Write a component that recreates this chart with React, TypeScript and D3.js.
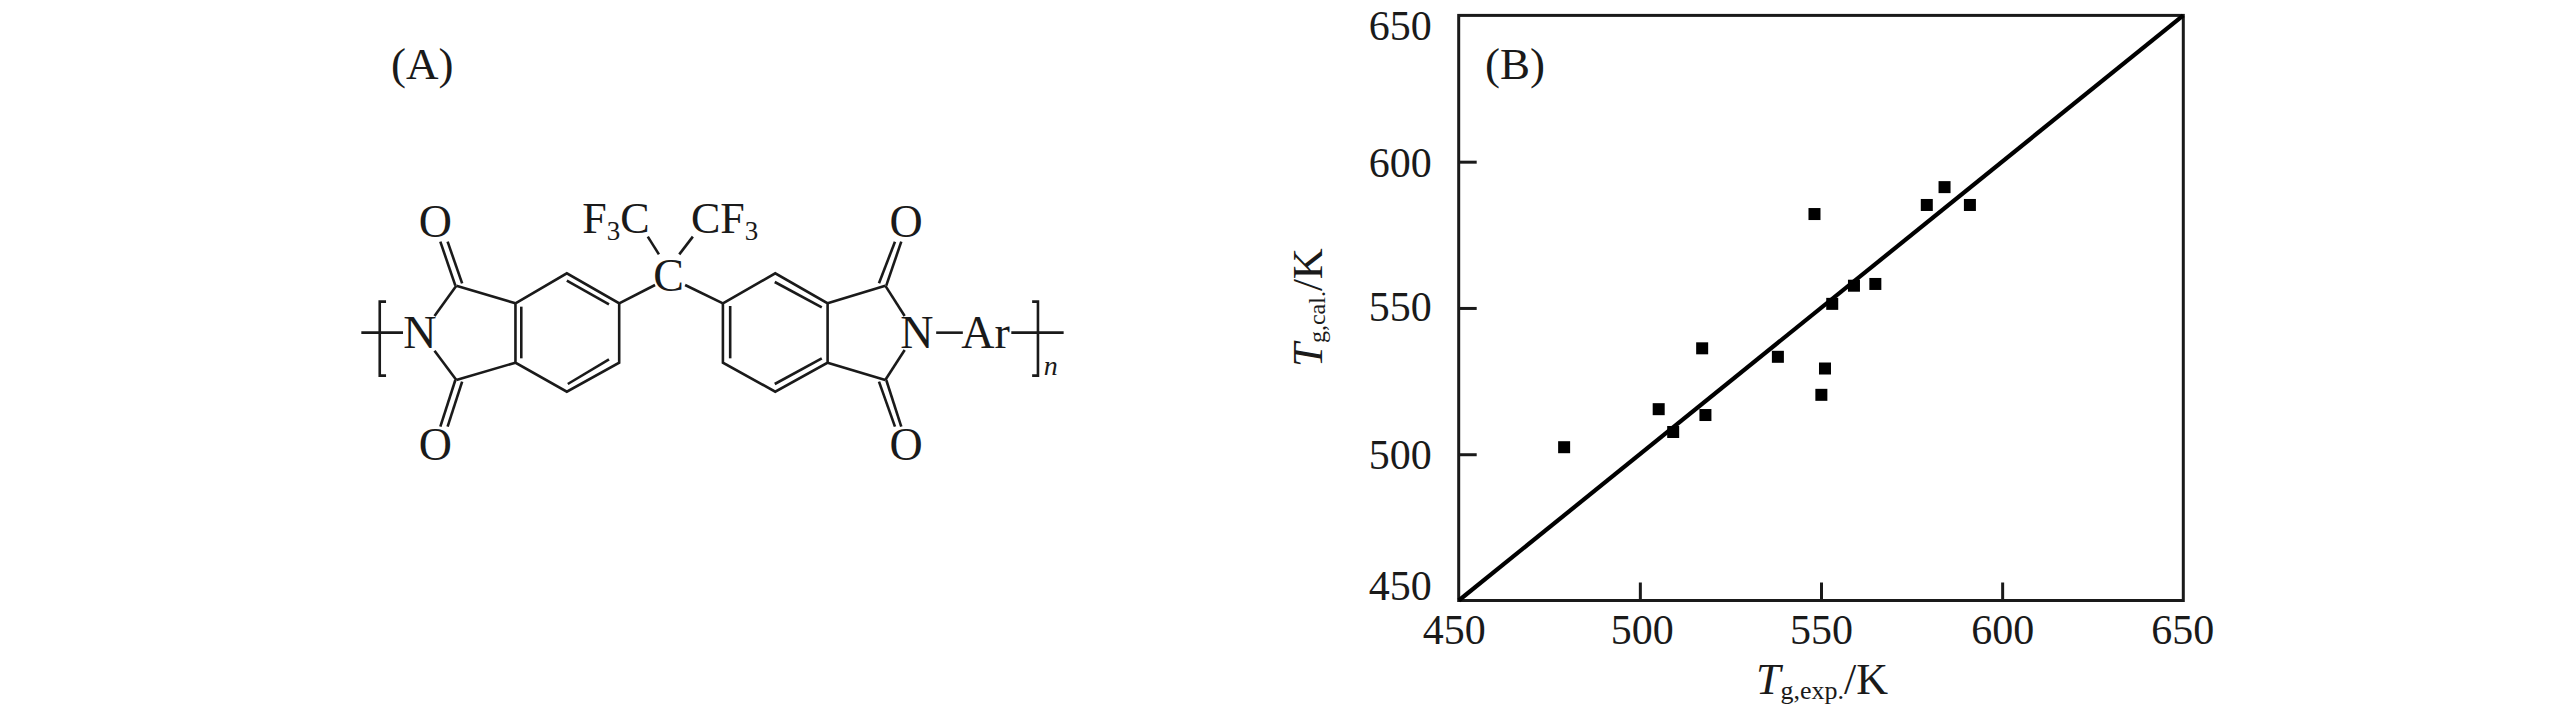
import { useRef, useEffect } from 'react';
import * as d3 from 'd3';

// Panel B: measured Tg values
const expValues = [479.1, 505.2, 509.2, 517.2, 518.1, 538.1, 548.2, 550.1, 551.1, 553.1, 559.1, 565, 579.2, 584.1, 591.1];
const calValues = [502.4, 515.4, 507.6, 536.2, 513.4, 533.3, 582.1, 520.3, 529.3, 551.4, 557.6, 558.2, 585.2, 591.3, 585.2];
const axisTicks = [450, 500, 550, 600, 650];
const parityLine = [450, 650];

// Panel A: structure, traced in a 1568x1440 drawing space
const leftRing = [[362, 850], [468, 760], [576, 850], [576, 1028], [468, 1115], [362, 1028], [362, 850]];
const rightRing = [[790, 850], [898, 760], [1006, 850], [1006, 1028], [898, 1115], [790, 1028], [790, 850]];
const leftBracket = [[95, 845], [82, 845], [82, 1067], [95, 1067]];
const rightBracket = [[1428, 845], [1440, 845], [1440, 1067], [1428, 1067]];
const bonds = [
  [44, 938, 130, 938], [195, 888, 240, 797], [240, 797, 362, 850], [195, 992, 240, 1080], [240, 1080, 362, 1028],
  [238, 797, 207, 665], [252, 790, 222, 665], [238, 1080, 207, 1220], [252, 1085, 222, 1220],
  [374, 860, 374, 1015], [468, 782, 555, 853], [555, 1018, 470, 1092],
  [576, 850, 650, 795], [790, 850, 712, 795], [658, 703, 635, 650], [700, 703, 728, 650],
  [805, 858, 805, 1015], [897, 786, 994, 862], [897, 1092, 994, 1015],
  [1006, 850, 1125, 797], [1125, 797, 1165, 888], [1006, 1028, 1125, 1080], [1125, 1080, 1165, 990],
  [1127, 797, 1158, 665], [1112, 790, 1145, 665], [1127, 1080, 1158, 1220], [1112, 1085, 1145, 1220],
  [1230, 938, 1285, 938], [1385, 938, 1493, 938],
];
const atoms = [
  ['O', 197, 605], ['O', 197, 1272], ['N', 165, 938], ['C', 678, 765],
  ['O', 1168, 605], ['O', 1168, 1272], ['N', 1190, 938], ['Ar', 1332, 938],
];

const FONT = '"Liberation Serif", "Times New Roman", serif';
const INK = '#1a1a1a';

export default function App() {
  const ref = useRef<SVGSVGElement>(null);

  useEffect(() => {
    const svg = d3.select(ref.current);
    svg.selectAll('*').remove();
    svg.attr('font-family', FONT).attr('fill', INK);

    // ---- Panel A
    const mx = d3.scaleLinear().domain([0, 1568]).range([340, 1100]);
    const my = d3.scaleLinear().domain([0, 1440]).range([20, 500]);
    const a = svg.append('g');
    const path = d3.line<number[]>().x(d => mx(d[0])).y(d => my(d[1]));

    a.selectAll('path.shape')
      .data([leftRing, rightRing, leftBracket, rightBracket])
      .join('path')
      .attr('d', d => path(d))
      .attr('fill', 'none')
      .attr('stroke', INK)
      .attr('stroke-width', 2.6);

    a.selectAll('line')
      .data(bonds)
      .join('line')
      .attr('x1', d => mx(d[0]))
      .attr('y1', d => my(d[1]))
      .attr('x2', d => mx(d[2]))
      .attr('y2', d => my(d[3]))
      .attr('stroke', INK)
      .attr('stroke-width', 2.6);

    a.selectAll('text.atom')
      .data(atoms)
      .join('text')
      .attr('class', 'atom')
      .attr('x', d => mx(d[1] as number))
      .attr('y', d => my(d[2] as number))
      .attr('text-anchor', 'middle')
      .attr('dominant-baseline', 'central')
      .attr('font-size', 46)
      .text(d => d[0] as string);

    a.append('text').attr('x', 391).attr('y', 79).attr('font-size', 45).text('(A)');

    const f3c = a.append('text').attr('x', mx(500)).attr('y', my(638)).attr('font-size', 44);
    f3c.append('tspan').text('F');
    f3c.append('tspan').attr('font-size', 27).attr('dy', 7).text('3');
    f3c.append('tspan').attr('dy', -7).text('C');

    const cf3 = a.append('text').attr('x', mx(724)).attr('y', my(638)).attr('font-size', 44);
    cf3.append('tspan').text('CF');
    cf3.append('tspan').attr('font-size', 27).attr('dy', 7).text('3');

    a.append('text').attr('x', mx(1452)).attr('y', my(1064)).attr('font-size', 28).attr('font-style', 'italic').text('n');

    // ---- Panel B
    const x = d3.scaleLinear().domain([450, 650]).range([1458.7, 2183.3]);
    const y = d3.scaleLinear().domain([450, 650]).range([600.5, 15.4]);
    const b = svg.append('g');

    b.append('rect')
      .attr('x', x(450)).attr('y', y(650))
      .attr('width', x(650) - x(450)).attr('height', y(450) - y(650))
      .attr('fill', 'none').attr('stroke', INK).attr('stroke-width', 3);

    const yNudge: Record<number, number> = { 650: 10, 600: 1, 550: -1, 500: 0, 450: -15 };
    const xNudge: Record<number, number> = { 450: -5, 500: 2, 550: 0, 600: 0, 650: -1 };

    const gx = b.append('g')
      .attr('transform', `translate(0,${y(450)})`)
      .call(d3.axisBottom(x).tickValues(axisTicks).tickFormat(d3.format('d')).tickSizeInner(-18).tickSizeOuter(0).tickPadding(0));
    gx.select('.domain').remove();
    gx.selectAll('.tick line').attr('stroke', INK).attr('stroke-width', 3);
    gx.selectAll<SVGTextElement, number>('.tick text')
      .attr('fill', INK).attr('font-size', 42).attr('font-family', FONT)
      .attr('y', 29.5).attr('dy', '0.33em')
      .attr('x', d => xNudge[d]);
    gx.selectAll<SVGGElement, number>('.tick').filter(d => d === 450 || d === 650).select('line').remove();

    const gy = b.append('g')
      .attr('transform', `translate(${x(450)},0)`)
      .call(d3.axisLeft(y).tickValues(axisTicks).tickFormat(d3.format('d')).tickSizeInner(-18).tickSizeOuter(0).tickPadding(0));
    gy.select('.domain').remove();
    gy.selectAll('.tick line').attr('stroke', INK).attr('stroke-width', 3);
    gy.selectAll<SVGTextElement, number>('.tick text')
      .attr('fill', INK).attr('font-size', 42).attr('font-family', FONT)
      .attr('x', -27)
      .attr('y', d => yNudge[d]).attr('dy', '0.33em');
    gy.selectAll<SVGGElement, number>('.tick').filter(d => d === 450 || d === 650).select('line').remove();

    b.append('line')
      .attr('x1', x(parityLine[0])).attr('y1', y(parityLine[0]))
      .attr('x2', x(parityLine[1])).attr('y2', y(parityLine[1]))
      .attr('stroke', '#000').attr('stroke-width', 4.2);

    const size = 12;
    b.selectAll('rect.pt')
      .data(expValues)
      .join('rect')
      .attr('class', 'pt')
      .attr('x', d => x(d) - size / 2)
      .attr('y', (_, i) => y(calValues[i]) - size / 2)
      .attr('width', size)
      .attr('height', size)
      .attr('fill', '#000');

    b.append('text').attr('x', 1485).attr('y', 79).attr('font-size', 45).text('(B)');

    const xTitle = b.append('text').attr('x', 1756).attr('y', 694).attr('font-size', 44);
    xTitle.append('tspan').attr('font-style', 'italic').text('T');
    xTitle.append('tspan').attr('font-size', 26).attr('dy', 5).text('g,exp.');
    xTitle.append('tspan').attr('dy', -5).text('/K');

    const yTitle = b.append('text').attr('transform', 'translate(1322,367) rotate(-90)').attr('font-size', 43);
    yTitle.append('tspan').attr('font-style', 'italic').text('T');
    yTitle.append('tspan').attr('font-size', 24).attr('dy', 3).text('g,cal.');
    yTitle.append('tspan').attr('dy', -3).text('/K');
  }, []);

  return (
    <svg
      ref={ref}
      width={2567}
      height={709}
      style={{ position: 'absolute', left: 0, top: 0, background: '#fff' }}
    />
  );
}
